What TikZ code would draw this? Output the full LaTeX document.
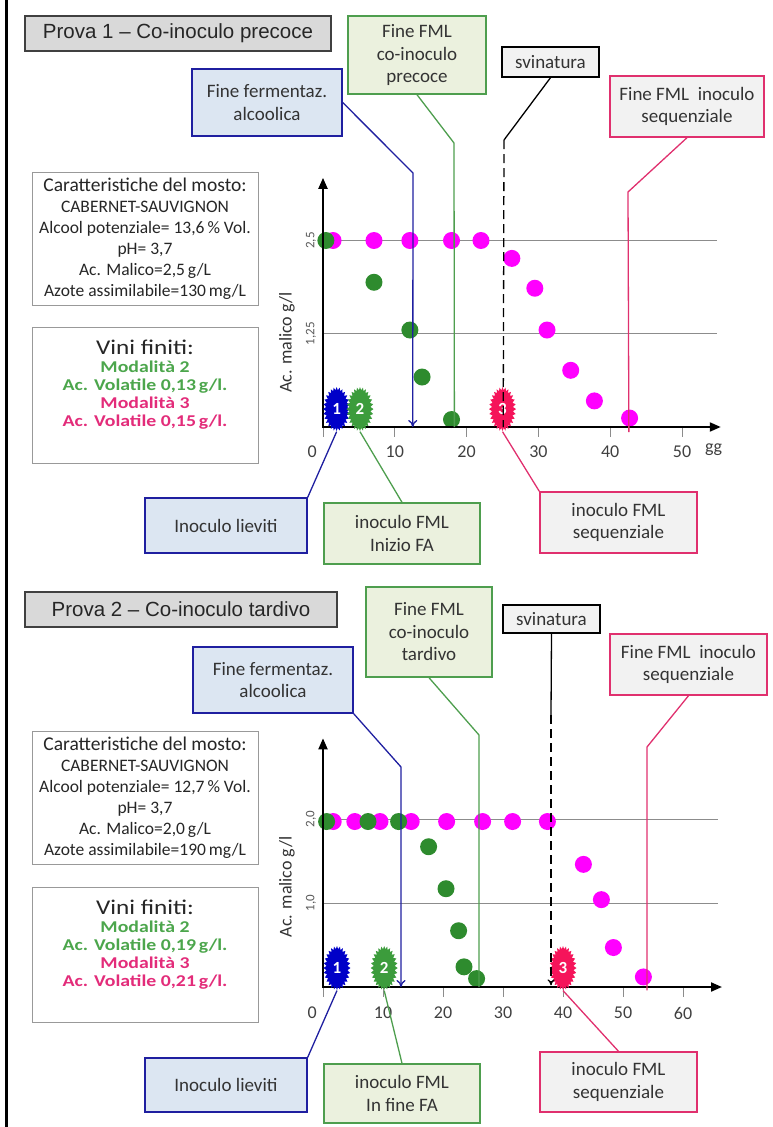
\documentclass[tikz,border=0pt]{standalone}
\usepackage{fontspec}
\setmainfont{Carlito}
\newfontfamily\titlefont{Liberation Sans}
\newfontfamily\widefont[FakeStretch=1.2]{Carlito}
\usetikzlibrary{shapes.symbols,arrows.meta}

% colori
\definecolor{titlefill}{HTML}{D9D9D9}
\definecolor{bluefill}{HTML}{DCE6F2}
\definecolor{cblue}{HTML}{1F1FA0}
\definecolor{greenfill}{HTML}{EBF1DE}
\definecolor{cgreen}{HTML}{4E9E4E}
\definecolor{cpink}{HTML}{E0306E}
\definecolor{greyfill}{HTML}{F2F2F2}
\definecolor{dotgreen}{HTML}{2E8B2E}
\definecolor{dotmagenta}{HTML}{FF00FF}
\definecolor{burstblue}{HTML}{0000C8}
\definecolor{burstgreen}{HTML}{3C9C3C}
\definecolor{burstred}{HTML}{F5145A}
\definecolor{txtgreen}{HTML}{4CA64C}
\definecolor{txtpink}{HTML}{E32C7A}

\tikzset{
  titlebox/.style={draw=black!75, fill=titlefill, line width=1.5pt, inner sep=0pt,
    font={\titlefont\fontsize{20.5}{24}\selectfont}, text=black!85},
  callout/.style={line width=1.4pt, inner sep=0pt, align=center,
    font={\fontsize{19}{22.5}\selectfont}, text=black!80},
  bluebox/.style={callout, draw=cblue, fill=bluefill},
  greenbox/.style={callout, draw=cgreen, fill=greenfill},
  pinkbox/.style={callout, draw=cpink, fill=greyfill},
  blackbox/.style={callout, draw=black, fill=greyfill},
  infobox/.style={draw=black!40, fill=white, line width=1pt, inner sep=0pt, align=center,
    text=black!85, font={\fontsize{17.5}{21}\selectfont}},
  vinibox/.style={infobox, font={\widefont\bfseries\fontsize{16.5}{18}\selectfont}},
  bluecon/.style={draw=cblue, line width=1.3pt},
  greencon/.style={draw=cgreen, line width=1.3pt},
  pinkcon/.style={draw=cpink, line width=1.3pt},
  blackcon/.style={draw=black, line width=1.3pt},
  axis/.style={line width=2pt, {Triangle[length=11pt,width=9pt]}-{Triangle[length=11pt,width=9pt]}},
  grid/.style={draw=black!45, line width=0.8pt},
  tick/.style={draw=black!45, line width=0.8pt},
  ticklabel/.style={font={\fontsize{18}{18}\selectfont}, text=black!75},
  ylabel/.style={rotate=90, font={\fontsize{13}{13}\selectfont}, text=black!65},
  axtitle/.style={rotate=90, font={\fontsize{18}{18}\selectfont}, text=black!80},
  burst/.style={starburst, starburst points=28, starburst point height=3pt, random starburst=0,
    minimum width=27pt, minimum height=44pt, inner sep=0pt, text=white,
    font={\bfseries\fontsize{17}{17}\selectfont}}
}

\begin{document}
\begin{tikzpicture}[x=1pt, y=-1pt]
\useasboundingbox (0,0) rectangle (773,1127);

% bordo sinistro
\draw[line width=2.5pt] (6.5,0) -- (6.5,1127);

% ================= Prova 1 =================
\node[titlebox, minimum width=306pt, minimum height=35pt] (title1) at (178,33.5) {Prova 1 – Co-inoculo precoce};

% grafico 1 (giorni / g/l)
\begin{scope}[shift={(323,427)}, x=7.18pt, y=74.6pt]
  \draw[grid] (0,2.5) -- (54.9,2.5) (0,1.25) -- (54.9,1.25);
  \foreach \t in {0,10,...,50} \draw[tick] (\t,0) -- ++(0,-10pt);
  \foreach \t in {10,20,...,50} \node[ticklabel] at ([yshift=-25pt]\t,0) {\t};
  \node[ticklabel] at ([yshift=-25pt]-1.5,0) {0};
  \node[ticklabel] at (54.4,-0.3) {gg};
  \node[ylabel] at ([xshift=-12pt]0,2.5) {2,5};
  \node[ylabel] at ([xshift=-12pt]0,1.25) {1,25};
  \node[axtitle] at ([xshift=-36pt]0,1.13) {Ac. malico g/l};
  % punti
  \foreach \d/\v in {1.4/2.5,7.1/2.5,12.1/2.5,17.9/2.5,22/2.5,26.3/2.26,29.5/1.86,31.2/1.3,34.5/0.76,37.8/0.35,42.7/0.12}
    \fill[dotmagenta] (\d,\v) circle (8.5pt);
  \foreach \d/\v in {0.4/2.5,7.1/1.94,12.1/1.3,13.8/0.67,17.9/0.1}
    \fill[dotgreen] (\d,\v) circle (8.5pt);
  \draw[axis] (0,3.34) -- (0,0) -- (55.4,0);
  % fine delle linee
  \coordinate (fa1) at (12.5,0);
  \coordinate (fml1) at (18.3,0);
  \coordinate (sv1) at (25.1,0);
  \coordinate (seq1) at (42.6,-0.07);
  % inoculi
  \node[burst, fill=burstblue] (b1a) at (1.9,0.24) {1};
  \node[burst, fill=burstgreen] (b1b) at (5.15,0.24) {2};
  \node[burst, fill=burstred] (b1c) at (25,0.24) {3};
\end{scope}

\node[bluebox, minimum width=150pt, minimum height=67pt] (ffa1) at (267,102.5) {Fine fermentaz.\\alcoolica};
\node[greenbox, minimum width=138pt, minimum height=78pt] (ffml1) at (417,55) {Fine FML\\co-inoculo\\precoce};
\node[blackbox, minimum width=97pt, minimum height=30pt] (svin1) at (550.5,62) {svinatura};
\node[pinkbox, minimum width=154pt, minimum height=61pt] (fseq1) at (687,106.5) {Fine FML\ \ inoculo\\sequenziale};

\draw[bluecon, -{To[length=7pt,width=9pt]}] (ffa1.east) -- (413,173) -- (fa1);
\draw[greencon] (ffml1.south) -- (454,143) -- (fml1);
\draw[blackcon] (svin1.south) -- (504,140) coordinate (sv1top);
\draw[blackcon, dash pattern=on 9pt off 5pt] (sv1top) -- (sv1);
\draw[pinkcon] (fseq1.south) -- (628,192) -- (seq1);

\node[infobox, minimum width=226pt, minimum height=133pt] (mosto1) at (145,238.5)
  {{\fontsize{19.5}{22}\selectfont Caratteristiche del mosto:}\\
   CABERNET-SAUVIGNON\\
   Alcool potenziale= 13,6\,\% Vol.\\
   pH= 3,7\\
   Ac. Malico=2,5\,g/L\\
   Azote assimilabile=130\,mg/L};
\node[vinibox, minimum width=226pt, minimum height=136pt] (vini1) at (145,395)
  {{\mdseries\fontsize{21}{24}\selectfont Vini finiti:}\\
   \textcolor{txtgreen}{Modalità 2}\\
   \textcolor{txtgreen}{Ac. Volatile 0,13\,g/l.}\\
   \textcolor{txtpink}{Modalità 3}\\
   \textcolor{txtpink}{Ac. Volatile 0,15\,g/l.}\\
   \strut};

\node[bluebox, minimum width=162pt, minimum height=55pt] (lievi1) at (226,525.5) {Inoculo lieviti};
\node[greenbox, minimum width=156pt, minimum height=61pt] (ifml1) at (402,533.5) {inoculo FML\\Inizio FA};
\node[pinkbox, minimum width=157pt, minimum height=61pt] (iseq1) at (618.5,522.5) {inoculo FML\\sequenziale};

\draw[bluecon] (b1a.south) -- (lievi1.north east);
\draw[greencon] (b1b.south) -- (ifml1.north);
\draw[pinkcon] (b1c.south) -- (iseq1.north west);

% ================= Prova 2 =================
\node[titlebox, minimum width=312pt, minimum height=35pt] (title2) at (181,609.5) {Prova 2 – Co-inoculo tardivo};

% grafico 2
\begin{scope}[shift={(323,987)}, x=6pt, y=84pt]
  \draw[grid] (0,2) -- (65.8,2) (0,1) -- (65.8,1);
  \foreach \t in {0,10,...,60} \draw[tick] (\t,0) -- ++(0,-10pt);
  \foreach \t in {10,20,...,60} \node[ticklabel] at ([yshift=-26pt]\t,0) {\t};
  \node[ticklabel] at ([yshift=-26pt]-1.8,0) {0};
  \node[ylabel] at ([xshift=-12pt]0,2) {2,0};
  \node[ylabel] at ([xshift=-12pt]0,1) {1,0};
  \node[axtitle] at ([xshift=-36pt]0,1.19) {Ac. malico g/l};
  % punti
  \foreach \d/\v in {1.7/1.97,5.3/1.97,9.5/1.97,14.7/1.97,20.6/1.97,26.6/1.97,31.6/1.97,37.4/1.97,43.4/1.46,46.4/1.04,48.4/0.47,53.4/0.12}
    \fill[dotmagenta] (\d,\v) circle (8.5pt);
  \foreach \d/\v in {0.6/1.97,7.5/1.97,12.6/1.97,17.6/1.67,20.5/1.17,22.6/0.67,23.5/0.24,25.6/0.1}
    \fill[dotgreen] (\d,\v) circle (8.5pt);
  \draw[axis] (0,2.96) -- (0,0) -- (66.5,0);
  \coordinate (fa2) at (13,0);
  \coordinate (fml2) at (26,0);
  \coordinate (sv2) at (38,0.02);
  \coordinate (seq2) at (54,-0.04);
  \node[burst, fill=burstblue] (b2a) at (2.33,0.226) {1};
  \node[burst, fill=burstgreen] (b2b) at (10.2,0.226) {2};
  \node[burst, fill=burstred] (b2c) at (40,0.226) {3};
\end{scope}

\node[bluebox, minimum width=160pt, minimum height=66pt] (ffa2) at (273,680) {Fine fermentaz.\\alcoolica};
\node[greenbox, minimum width=126pt, minimum height=90pt] (ffml2) at (429,632) {Fine FML\\co-inoculo\\tardivo};
\node[blackbox, minimum width=97pt, minimum height=28pt] (svin2) at (551.5,619) {svinatura};
\node[pinkbox, minimum width=157pt, minimum height=61pt] (fseq2) at (688.5,664.5) {Fine FML\ \ inoculo\\sequenziale};

\draw[bluecon, -{To[length=7pt,width=9pt]}] (ffa2.south east) -- (401,767) -- (fa2);
\draw[greencon] (ffml2.south) -- (479,735) -- (fml2);
\draw[blackcon] (svin2.south) -- (551,715) coordinate (sv2top);
\draw[blackcon, dash pattern=on 9pt off 5pt, -{To[length=6pt,width=7pt]}] (sv2top) -- (sv2);
\draw[pinkcon] (fseq2.south) -- (647,747) -- (seq2);

\node[infobox, minimum width=226pt, minimum height=133pt] (mosto2) at (145,797.5)
  {{\fontsize{19.5}{22}\selectfont Caratteristiche del mosto:}\\
   CABERNET-SAUVIGNON\\
   Alcool potenziale= 12,7\,\% Vol.\\
   pH= 3,7\\
   Ac. Malico=2,0\,g/L\\
   Azote assimilabile=190\,mg/L};
\node[vinibox, minimum width=226pt, minimum height=135pt] (vini2) at (145,954.5)
  {{\mdseries\fontsize{21}{24}\selectfont Vini finiti:}\\
   \textcolor{txtgreen}{Modalità 2}\\
   \textcolor{txtgreen}{Ac. Volatile 0,19\,g/l.}\\
   \textcolor{txtpink}{Modalità 3}\\
   \textcolor{txtpink}{Ac. Volatile 0,21\,g/l.}\\
   \strut};

\node[bluebox, minimum width=162pt, minimum height=54pt] (lievi2) at (226,1085) {Inoculo lieviti};
\node[greenbox, minimum width=156pt, minimum height=59pt] (ifml2) at (402,1093.5) {inoculo FML\\In fine FA};
\node[pinkbox, minimum width=157pt, minimum height=60pt] (iseq2) at (618.5,1082) {inoculo FML\\sequenziale};

\draw[bluecon] (b2a.south) -- (lievi2.north east);
\draw[greencon] (b2b.south) -- (ifml2.north);
\draw[pinkcon] (b2c.south) -- (iseq2.north);

\end{tikzpicture}
\end{document}
